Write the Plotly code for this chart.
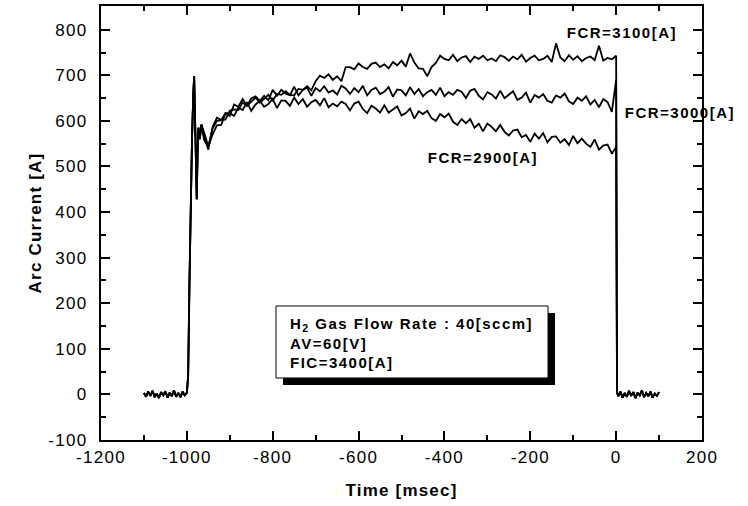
import plotly.graph_objects as go

# ---------------- data ----------------
# shared start: pre-discharge baseline, rise and initial spike (time [msec], current [A])
t_head = [-1100, -1095, -1090, -1085, -1080, -1075, -1070, -1065, -1060, -1055,
          -1050, -1045, -1040, -1035, -1030, -1025, -1020, -1015, -1010, -1005,
          -1000, -997, -994, -991, -988, -985, -983, -981, -979, -977,
          -975, -973, -970, -966]
i_head = [3, -5, 6, -3, 8, -6, 2, -8, 5, -2,
          7, -7, 4, -4, 9, -5, 3, -6, 6, -2,
          4, 40, 240, 430, 560, 660, 698, 610, 500, 428,
          530, 585, 560, 592]

# plateau, sampled every 10 ms from -960 to 0
t_plateau = list(range(-960, 1, 10))
i_3100 = [575, 544, 583, 600, 601, 603, 622, 625, 624, 640,
          633, 642, 651, 640, 648, 657, 645, 659, 657, 665,
          657, 656, 670, 668, 676, 667, 687, 699, 694, 702,
          690, 698, 687, 718, 718, 713, 726, 718, 714, 725,
          728, 718, 724, 715, 729, 722, 732, 719, 748, 728,
          715, 714, 698, 718, 727, 743, 736, 733, 745, 731,
          739, 742, 729, 741, 736, 743, 733, 737, 731, 744,
          740, 732, 741, 735, 745, 730, 738, 743, 733, 736,
          743, 729, 770, 739, 731, 744, 734, 742, 731, 738,
          741, 733, 765, 732, 738, 735, 743]
i_3000 = [566, 537, 587, 607, 602, 617, 611, 636, 631, 648,
          633, 649, 654, 644, 655, 645, 668, 655, 668, 660,
          656, 675, 656, 668, 673, 655, 672, 665, 676, 662,
          667, 658, 677, 671, 659, 672, 663, 677, 656, 668,
          673, 659, 664, 674, 653, 669, 667, 656, 674, 659,
          670, 654, 663, 668, 657, 673, 654, 663, 657, 668,
          664, 650, 666, 670, 655, 647, 663, 658, 649, 666,
          650, 658, 665, 646, 651, 662, 640, 657, 651, 659,
          644, 640, 656, 651, 660, 643, 637, 651, 644, 654,
          636, 646, 630, 648, 641, 620, 690]
i_2900 = [558, 544, 570, 590, 591, 617, 617, 611, 629, 624,
          641, 622, 636, 644, 631, 637, 648, 628, 645, 644,
          633, 651, 637, 648, 631, 641, 646, 634, 650, 630,
          638, 632, 642, 637, 623, 638, 642, 626, 617, 633,
          627, 618, 634, 618, 625, 632, 612, 617, 627, 605,
          621, 615, 622, 606, 600, 615, 608, 616, 598, 591,
          604, 595, 604, 585, 594, 577, 594, 587, 577, 591,
          576, 568, 579, 581, 564, 569, 554, 572, 561, 573,
          553, 565, 566, 552, 560, 547, 567, 551, 561, 550,
          543, 559, 537, 546, 548, 528, 543]

# shared end: switch-off and post-discharge baseline
t_tail = [2, 5, 10, 15, 20, 25, 30, 35, 40, 45, 50,
          55, 60, 65, 70, 75, 80, 85, 90, 95, 100]
i_tail = [5, -4, 6, -7, 3, -5, 8, -3, 5, -8, 4,
          -2, 9, -6, 3, -4, 6, -7, 2, -3, 5]

series_names = ["FCR=2900[A]", "FCR=3000[A]", "FCR=3100[A]"]
series_values = [i_2900, i_3000, i_3100]

x_tickvals = [-1200, -1000, -800, -600, -400, -200, 0, 200]
x_ticktext = ["-1200", "-1000", "-800", "-600", "-400", "-200", "0", "200"]
y_tickvals = [-100, 0, 100, 200, 300, 400, 500, 600, 700, 800]
y_ticktext = ["-100", "0", "100", "200", "300", "400", "500", "600", "700", "800"]

for v in series_values:
    assert len(v) == len(t_plateau)
assert len(t_head) == len(i_head) and len(t_tail) == len(i_tail)

# ---------------- figure ----------------
FONT = "Arial, 'Liberation Sans', sans-serif"
fig = go.Figure()
for name, vals in zip(series_names, series_values):
    fig.add_trace(go.Scatter(
        x=t_head + t_plateau + t_tail,
        y=i_head + vals + i_tail,
        mode="lines", name=name,
        line=dict(color="black", width=1.8),
        showlegend=False, hoverinfo="skip"))

axis_common = dict(
    showline=True, linewidth=2, linecolor="black", mirror="allticks",
    ticks="inside", ticklen=9, tickwidth=2, tickcolor="black",
    showgrid=False, zeroline=False,
    tickfont=dict(family=FONT, size=17, color="black"),
)
fig.update_xaxes(
    **axis_common, range=[-1200, 200], tickmode="array",
    tickvals=x_tickvals, ticktext=x_ticktext, ticklabelstandoff=1,
    minor=dict(tickmode="linear", tick0=-1200, dtick=100, ticks="inside",
               ticklen=5, tickwidth=1.5, tickcolor="black", showgrid=False),
    title=dict(text="Time [msec]", font=dict(family=FONT, size=17, weight="bold"),
               standoff=18))
fig.update_yaxes(
    **axis_common, range=[-100, 852], tickmode="array",
    tickvals=y_tickvals, ticktext=y_ticktext, ticklabelstandoff=8,
    minor=dict(tickmode="linear", tick0=-100, dtick=50, ticks="inside",
               ticklen=5, tickwidth=1.5, tickcolor="black", showgrid=False),
    title=dict(text="Arc Current [A]", font=dict(family=FONT, size=17, weight="bold"),
               standoff=8))

# trace labels
label_font = dict(family=FONT, size=15, color="black", weight="bold")
label_specs = [("FCR=3100[A]", 14, 793), ("FCR=3000[A]", 149, 618), ("FCR=2900[A]", -311, 519)]
for txt, lx, ly in label_specs:
    fig.add_annotation(x=lx, y=ly, xref="x", yref="y", text=txt, showarrow=False,
                       xanchor="center", yanchor="middle", font=label_font)

# info box with drop shadow
fig.add_shape(type="rect", xref="paper", yref="paper", x0=0.3028, x1=0.7554,
              y0=0.1267, y1=0.2926, fillcolor="black", line=dict(width=0), layer="above")
fig.add_shape(type="rect", xref="paper", yref="paper", x0=0.2912, x1=0.7438,
              y0=0.1429, y1=0.3088, fillcolor="white",
              line=dict(color="black", width=1), layer="above")
fig.add_annotation(x=0.3112, y=0.2224, xref="paper", yref="paper",
                   text="H<sub>2</sub> Gas Flow Rate : 40[sccm]<br>AV=60[V]<br>FIC=3400[A]",
                   showarrow=False, xanchor="left", yanchor="middle", align="left",
                   font=label_font)

fig.update_layout(
    width=748, height=506,
    margin=dict(l=101, r=46, t=6, b=66, autoexpand=False),
    paper_bgcolor="white", plot_bgcolor="white",
    font=dict(family=FONT, color="black"),
    showlegend=False,
)

post = """
document.body.style.margin='0';
var st=document.createElement('style');
st.textContent='.xtick text,.ytick text{letter-spacing:1.3px}.xtitle,.ytitle{letter-spacing:1.2px}.annotation-text{letter-spacing:1.5px}';
document.head.appendChild(st);
"""
fig.write_html("out.html", config={"displayModeBar": False}, post_script=post)
